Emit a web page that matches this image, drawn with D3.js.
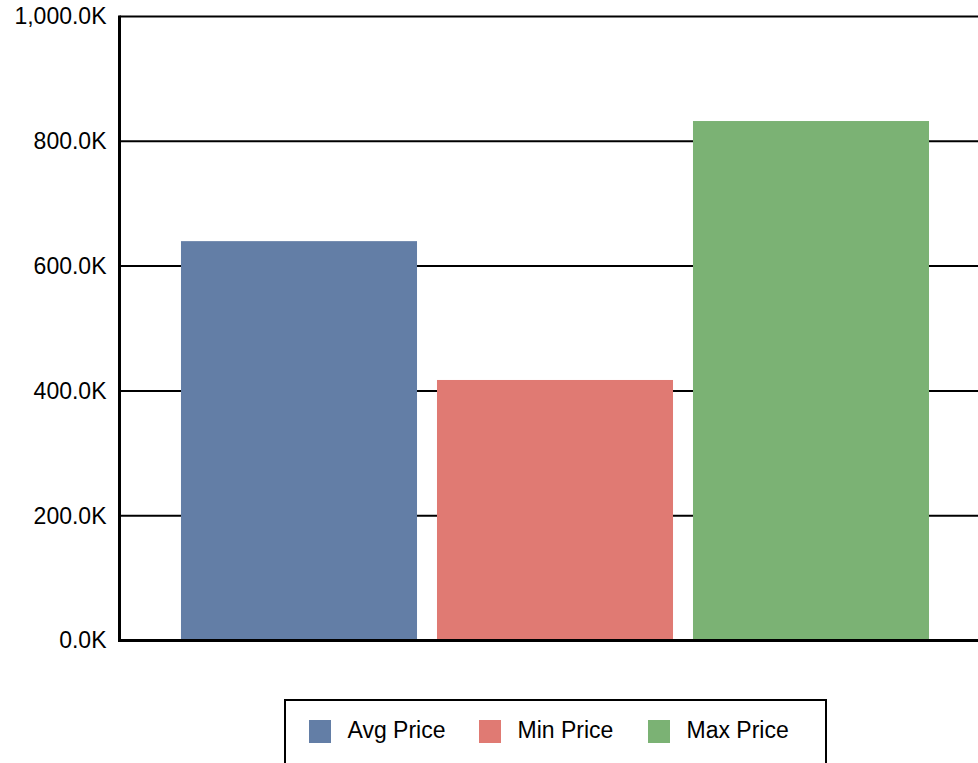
<!DOCTYPE html>
<html>
<head>
<meta charset="utf-8">
<script src="https://cdn.jsdelivr.net/npm/d3@7"></script>
<style>
html,body{margin:0;padding:0;background:#fff;overflow:hidden;}
svg{display:block;font-family:"Liberation Sans",Arial,sans-serif;}
</style>
</head>
<body>
<svg id="chart" width="978" height="763"></svg>
<script>
const categories = ["Avg Price", "Min Price", "Max Price"];
const values = [640000, 417500, 832500];
const colors = ["#637ea6", "#e07a73", "#7bb274"];
const tickValues = [0, 200000, 400000, 600000, 800000, 1000000];

const svg = d3.select("#chart");
const W = 978;
const axisX = 119.5;

const y = d3.scaleLinear().domain([0, 1000000]).range([640.5, 16.5]);
const x = d3.scaleBand().domain(categories).range([171, 939]).paddingInner(0.078).paddingOuter(0.039);

const fmt = v => d3.format(",.1f")(v / 1000) + "K";

// gridlines
svg.append("g").selectAll("line").data(tickValues).join("line")
  .attr("x1", axisX).attr("x2", W)
  .attr("y1", d => y(d)).attr("y2", d => y(d))
  .attr("stroke", "#000").attr("stroke-width", 2);

// bars
svg.append("g").selectAll("rect").data(categories).join("rect")
  .attr("x", d => x(d))
  .attr("width", x.bandwidth())
  .attr("y", (d, i) => y(values[i]))
  .attr("height", (d, i) => y(0) - y(values[i]))
  .attr("fill", (d, i) => colors[i]);

// baseline
svg.append("line").attr("x1", axisX).attr("x2", W)
  .attr("y1", y(0)).attr("y2", y(0))
  .attr("stroke", "#000").attr("stroke-width", 3);

// y axis
const yAxis = d3.axisLeft(y).tickValues(tickValues).tickFormat(fmt).tickSize(0).tickPadding(13);
const ga = svg.append("g").attr("transform", `translate(${axisX},0)`).call(yAxis);
ga.select(".domain").attr("stroke", "#000").attr("stroke-width", 3)
  .attr("d", `M0,${y(1000000) - 1}V${y(0) + 1.5}`);
ga.selectAll("text").attr("font-size", 23).attr("fill", "#000")
  .attr("font-family", "Liberation Sans, Arial, sans-serif");

// legend
const lg = svg.append("g");
lg.append("rect").attr("x", 285).attr("y", 700).attr("width", 541).attr("height", 90)
  .attr("fill", "#fff").attr("stroke", "#000").attr("stroke-width", 2);
const legX = [309, 479, 648];
const items = lg.selectAll("g.item").data(categories).join("g")
  .attr("transform", (d, i) => `translate(${legX[i]},720)`);
items.append("rect").attr("width", 22).attr("height", 23).attr("fill", (d, i) => colors[i]);
items.append("text").attr("x", 38.5).attr("y", 18).attr("font-size", 23).attr("fill", "#000")
  .text(d => d);
</script>
</body>
</html>
